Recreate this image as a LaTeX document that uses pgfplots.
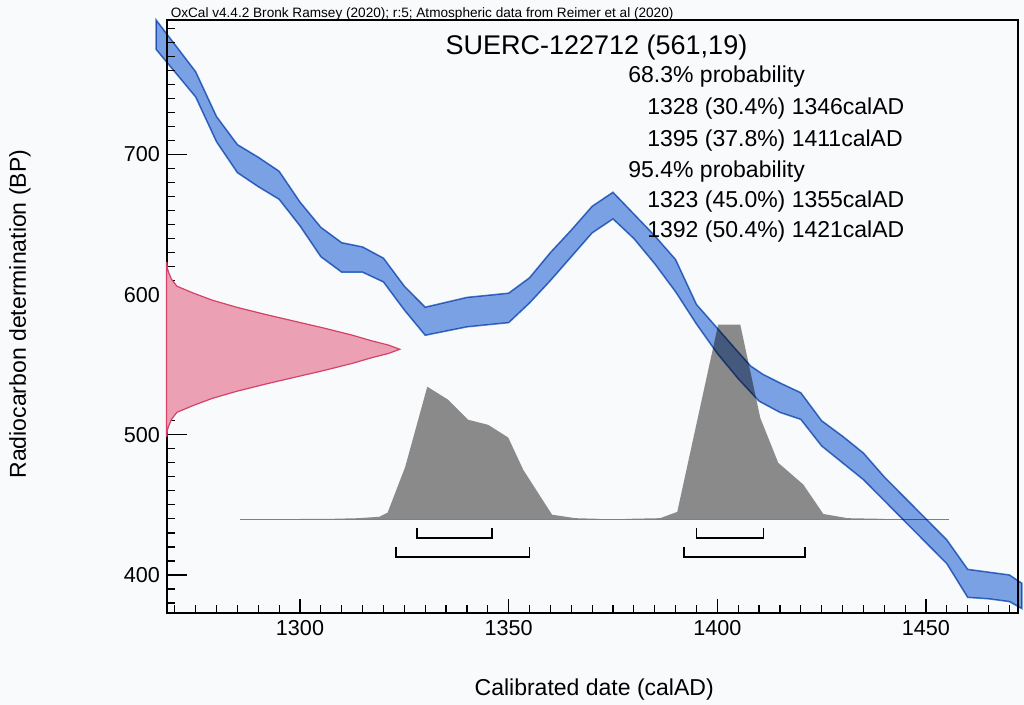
\documentclass[border=0pt]{standalone}
\usepackage{fontspec}
\setmainfont{Liberation Sans}
\usepackage{pgfplots}
\pgfplotsset{compat=1.18}
\usetikzlibrary{backgrounds}
\definecolor{bandfill}{RGB}{126,165,230}
\definecolor{bandedge}{RGB}{72,124,202}
\definecolor{likefill}{RGB}{236,160,180}
\definecolor{likeedge}{RGB}{212,66,108}
\definecolor{postfill}{RGB}{138,138,138}
\definecolor{paper}{RGB}{248,250,252}
\begin{document}
\begin{tikzpicture}
\begin{axis}[
  scale only axis, width=425.5bp, height=296.5bp,
  xmin=1268.13, xmax=1472.05, ymin=372.86, ymax=795.9,
  clip=false,
  axis line style={line width=0.7bp},
  tick align=inside, xtick pos=bottom, ytick pos=left,
  xtick={1300,1350,1400,1450}, minor xtick={1270,1275,...,1470},
  ytick={400,500,600,700}, minor ytick={380,390,...,790},
  major tick length=7bp, minor tick length=3.8bp,
  ytick style={/pgfplots/major tick length=10bp},
  tick style={line width=0.6bp, black},
  /pgf/number format/assume math mode=true,
  xticklabel={\pgfmathprintnumber[1000 sep={}]{\tick}},
  ticklabel style={font=\fontsize{10.8bp}{13bp}\selectfont},
  xlabel={Calibrated date (calAD)},
  ylabel={Radiocarbon determination (BP)},
  xlabel style={at={(axis description cs:0.502,-0.1298)}, anchor=center, font=\fontsize{11.5bp}{13bp}\selectfont},
  ylabel style={at={(axis description cs:-0.1727,0.504)}, anchor=center, rotate=0, font=\fontsize{11.5bp}{13bp}\selectfont},
]
% likelihood (radiocarbon measurement)
\addplot[fill=likefill, draw=likeedge, line width=0.6bp] coordinates {
(1268,623)(1268.1,623)(1268.2,619)(1268.5,616)(1269.2,611)(1270.5,606)(1274.5,601)(1279,596)(1284.8,591)(1291.5,586)(1298.7,581)(1305.9,576)(1312.6,571)(1317.2,567)(1321.2,564)(1323.9,561)(1321.2,558)(1317.2,555)(1312.6,551)(1305.9,546)(1298.7,541)(1291.5,536)(1284.8,531)(1279,526)(1274.5,521)(1270.5,516)(1269.2,511)(1268.5,506)(1268.2,503)(1268.1,499)(1268,499)} -- cycle;
% posterior distributions
\addplot[fill=postfill, draw=none] coordinates {
(1300,440)(1307,440)(1314,440.5)(1319,441.5)(1321,444.5)(1325.2,477)(1330.5,534.3)(1335.5,525)(1340.3,510.7)(1345.1,507.1)(1349.9,498)(1353.5,475)(1360.4,443)(1366,440.5)(1372,440)} -- cycle;
\addplot[fill=postfill, draw=none] coordinates {
(1378,440)(1386.3,440.5)(1390.4,445)(1400.2,578.6)(1405.5,578.6)(1410.3,512)(1414.6,480)(1420.6,464.5)(1425.4,443.5)(1431.2,440.5)(1440,440)} -- cycle;
\addplot[draw=gray, line width=0.35bp] coordinates {(1285.6,440)(1455.4,440)};
% calibration curve band
\addplot[fill=bandfill, draw=bandedge, line width=0.75bp, /tikz/blend mode=multiply] coordinates {
(1265.5,796)(1275,759)(1280,727)(1285,707)(1290,698)(1295,688)(1300,666)(1305,648)(1310,637)(1315,634)(1320,626)(1325,606)(1330,591)(1340,598)(1350,601)(1355,612)(1360,630)(1365,646)(1370,663)(1375,673)(1385,642)(1390,625)(1395,593)(1400,576)(1405,559)(1408,549)(1411,543)(1415,537)(1420,530)(1425,510)(1430,499)(1435,487)(1440,470)(1445,455)(1450,440)(1455,425)(1460,404)(1465,402)(1470,400)(1473,394)
(1473,376)(1470,381)(1465,383)(1460,384)(1455,408)(1450,423)(1445,438)(1440,453)(1435,468)(1430,480)(1425,492)(1420,511)(1415,516)(1410,524)(1405,540)(1400,558)(1395,579)(1390,602)(1385,622)(1380,640)(1375,654)(1370,644)(1365,627)(1360,610)(1355,594)(1350,580)(1340,577)(1330,571)(1325,589)(1320,609)(1315,616)(1310,616)(1305,627)(1300,649)(1295,668)(1290,677)(1285,687)(1280,709)(1275,741)(1265.5,775)} -- cycle;
% ranges
\addplot[black, line width=0.7bp] coordinates {(1328,433.6)(1328,426.4)(1346,426.4)(1346,433.6)};
\addplot[black, line width=0.7bp] coordinates {(1395,433.6)(1395,426.4)(1411,426.4)(1411,433.6)};
\addplot[black, line width=0.7bp] coordinates {(1323,420)(1323,412.9)(1355,412.9)(1355,420)};
\addplot[black, line width=0.7bp] coordinates {(1392,420)(1392,412.9)(1421,412.9)(1421,420)};
% texts
\node[anchor=base west, inner sep=0pt, font=\fontsize{6.8bp}{7.5bp}\selectfont] at (axis description cs:0.004,1.004) {OxCal v4.4.2 Bronk Ramsey (2020); r:5; Atmospheric data from Reimer et al (2020)};
\node[anchor=base, inner sep=0pt, font=\fontsize{13.5bp}{15bp}\selectfont] at (axis description cs:0.5047,0.941) {SUERC-122712 (561,19)};
\begin{scope}[every node/.style={anchor=base west, inner sep=0pt, font=\fontsize{11.5bp}{13bp}\selectfont}]
\node at (axis description cs:0.5417,0.8938) {68.3\% probability};
\node at (axis description cs:0.5640,0.8398) {1328 (30.4\%) 1346calAD};
\node at (axis description cs:0.5640,0.7875) {1395 (37.8\%) 1411calAD};
\node at (axis description cs:0.5417,0.7352) {95.4\% probability};
\node at (axis description cs:0.5640,0.6830) {1323 (45.0\%) 1355calAD};
\node at (axis description cs:0.5640,0.6324) {1392 (50.4\%) 1421calAD};
\end{scope}
\end{axis}
\pgfresetboundingbox
\coordinate (bl) at ([shift={(-83.5bp,-46bp)}]current axis.south west);
\coordinate (tr) at ([shift={(3bp,10bp)}]current axis.north east);
\begin{pgfonlayer}{background}
\fill[paper] (bl) rectangle (tr);
\end{pgfonlayer}
\end{tikzpicture}
\end{document}
